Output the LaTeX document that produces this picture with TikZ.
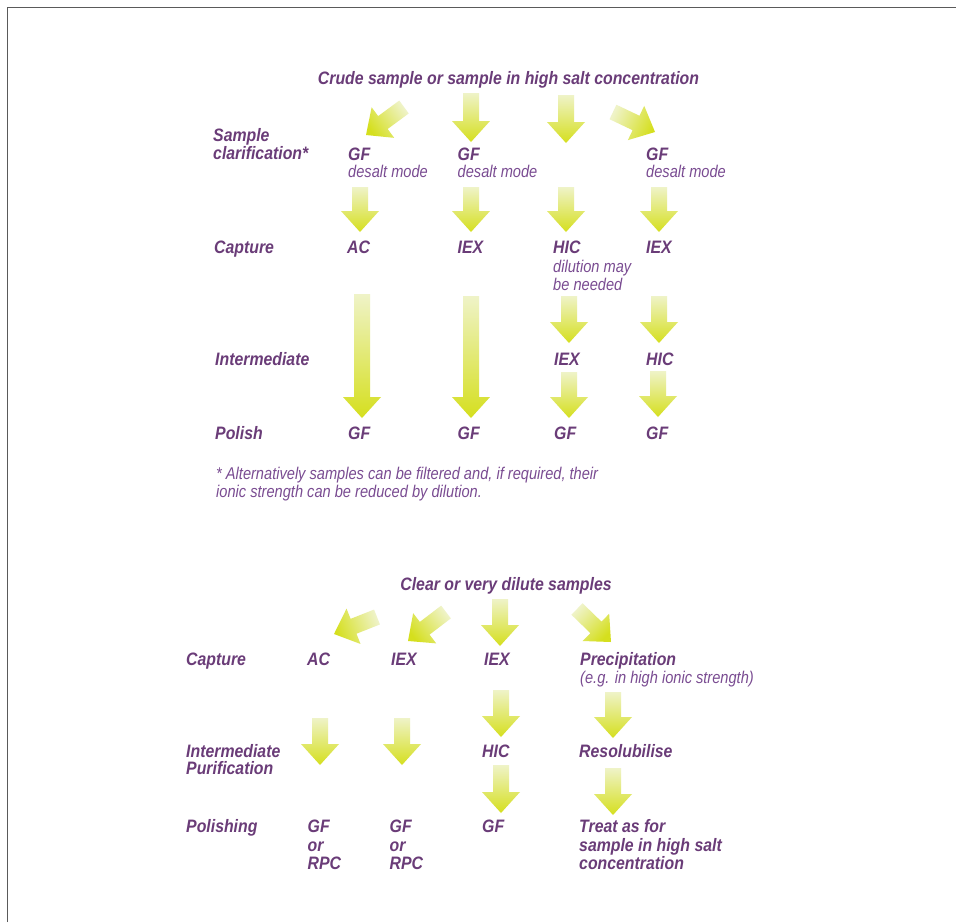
\documentclass[tikz,border=0pt]{standalone}
\usepackage{fontspec}
\setmainfont{Liberation Sans}[FakeStretch=0.88]
\newfontfamily\lightfam{Liberation Sans}[FakeStretch=0.86]
\usetikzlibrary{calc}
\definecolor{txtbold}{HTML}{6A3C78}
\definecolor{txtlight}{HTML}{7A4C92}
\definecolor{arrowtop}{HTML}{EFF3C8}
\definecolor{arrowbot}{HTML}{D5DF1E}
\definecolor{framecol}{HTML}{5A5A5A}
\tikzset{
  lab/.style={anchor=base west, inner sep=0pt, text=txtbold,
    font=\fontsize{18}{18}\selectfont\bfseries\itshape},
  titlelab/.style={anchor=base, inner sep=0pt, text=txtbold,
    font=\fontsize{18}{18}\selectfont\bfseries\itshape},
  sub/.style={anchor=base west, inner sep=0pt, text=txtlight,
    font=\lightfam\fontsize{17}{17}\selectfont\itshape},
  blockarrow/.style={top color=arrowtop, bottom color=arrowbot, draw=none},
}
\newcommand\barrow[2]{%
  \pgfmathanglebetweenpoints{\pgfpointanchor{#1}{center}}{\pgfpointanchor{#2}{center}}%
  \let\baraw\pgfmathresult
  \pgfmathsetmacro\baang{\baraw+90}%
  \path ($(#2)!21pt!(#1)$) coordinate (bah);
  \shade[blockarrow, shading angle=\baang]
    ($(#1)!8pt!90:(#2)$) -- ($(bah)!8pt!90:(#2)$) -- ($(bah)!19pt!90:(#2)$)
    -- (#2) -- ($(bah)!19pt!-90:(#2)$) -- ($(bah)!8pt!-90:(#2)$)
    -- ($(#1)!8pt!-90:(#2)$) -- cycle;
}
\begin{document}
\begin{tikzpicture}[x=1pt,y=-1pt]
\useasboundingbox (0,0) rectangle (956,922);
\fill[white] (0,0) rectangle (956,922);
\draw[framecol, line width=1pt] (7,922) -- (7,7) -- (956,7);

% ---------- upper scheme: texts ----------
\node[titlelab] (title1) at (508.5,84) {Crude sample or sample in high salt concentration};
\node[lab] (clar1) at (213,141) {Sample};
\node[lab] (clar2) at (213,159) {clarification*};
\node[lab] (cap1) at (214,253) {Capture};
\node[lab] (int1) at (215,365) {Intermediate};
\node[lab] (pol1) at (215,439) {Polish};

\node[lab] (gfa) at (348,160) {GF};
\node[sub] (gfad) at (348,177) {desalt mode};
\node[lab] (gfb) at (457.5,160) {GF};
\node[sub] (gfbd) at (457.5,177) {desalt mode};
\node[lab] (gfd) at (646,160) {GF};
\node[sub] (gfdd) at (646,177) {desalt mode};

\node[lab] (ca) at (347,253) {AC};
\node[lab] (cb) at (457.5,253) {IEX};
\node[lab] (cc) at (553,253) {HIC};
\node[sub] (ccd1) at (553,272) {dilution may};
\node[sub] (ccd2) at (553,290) {be needed};
\node[lab] (cd) at (646,253) {IEX};

\node[lab] (ic) at (554,365) {IEX};
\node[lab] (id) at (646,365) {HIC};

\node[lab] (pa) at (348,439.5) {GF};
\node[lab] (pb) at (457.5,439.5) {GF};
\node[lab] (pc) at (554,439.5) {GF};
\node[lab] (pd) at (646,439.5) {GF};

\node[sub] (note1) at (216,479.5) {* Alternatively samples can be filtered and, if required, their};
\node[sub] (note2) at (216,497) {ionic strength can be reduced by dilution.};

% ---------- upper scheme: arrows ----------
\coordinate (t1s) at (404,107);  \coordinate (t1e) at (366,135);
\coordinate (t2s) at (471,93);   \coordinate (t2e) at (471,142);
\coordinate (t3s) at (566,95);   \coordinate (t3e) at (566,143);
\coordinate (t4s) at (613,112);  \coordinate (t4e) at (655,132);
\coordinate (r2as) at (360,187); \coordinate (r2ae) at (360,232);
\coordinate (r2bs) at (471,187); \coordinate (r2be) at (471,232);
\coordinate (r2cs) at (566,187); \coordinate (r2ce) at (566,232);
\coordinate (r2ds) at (659,187); \coordinate (r2de) at (659,232);
\coordinate (r3as) at (362,294); \coordinate (r3ae) at (362,418);
\coordinate (r3bs) at (471,296); \coordinate (r3be) at (471,418);
\coordinate (r3cs) at (569,296); \coordinate (r3ce) at (569,343);
\coordinate (r3ds) at (659,296); \coordinate (r3de) at (659,343);
\coordinate (r4cs) at (569,372); \coordinate (r4ce) at (569,418);
\coordinate (r4ds) at (658,371); \coordinate (r4de) at (658,417);
\barrow{t1s}{t1e} \barrow{t2s}{t2e} \barrow{t3s}{t3e} \barrow{t4s}{t4e}
\barrow{r2as}{r2ae} \barrow{r2bs}{r2be} \barrow{r2cs}{r2ce} \barrow{r2ds}{r2de}
\barrow{r3as}{r3ae} \barrow{r3bs}{r3be} \barrow{r3cs}{r3ce} \barrow{r3ds}{r3de}
\barrow{r4cs}{r4ce} \barrow{r4ds}{r4de}

% ---------- lower scheme: texts ----------
\node[titlelab] (title2) at (506,590) {Clear or very dilute samples};
\node[lab] (cap2) at (186,665) {Capture};
\node[lab] (qa) at (307,665) {AC};
\node[lab] (qb) at (391,665) {IEX};
\node[lab] (qc) at (484,665) {IEX};
\node[lab] (qd) at (580,665) {Precipitation};
\node[sub] (qdd) at (580,683) {(e.g. in high ionic strength)};

\node[lab] (int2a) at (186,757) {Intermediate};
\node[lab] (int2b) at (186,774.5) {Purification};
\node[lab] (jc) at (482,757) {HIC};
\node[lab] (jd) at (579,757) {Resolubilise};

\node[lab] (pol2) at (186,832) {Polishing};
\node[lab] (ka1) at (307.5,832) {GF};
\node[lab] (ka2) at (307.5,851) {or};
\node[lab] (ka3) at (307.5,869.5) {RPC};
\node[lab] (kb1) at (389.5,832) {GF};
\node[lab] (kb2) at (389.5,851) {or};
\node[lab] (kb3) at (389.5,869.5) {RPC};
\node[lab] (kc) at (482,832) {GF};
\node[lab] (kd1) at (579,832) {Treat as for};
\node[lab] (kd2) at (579,851) {sample in high salt};
\node[lab] (kd3) at (579,869.5) {concentration};

% ---------- lower scheme: arrows ----------
\coordinate (b1s) at (377,617);  \coordinate (b1e) at (334,634);
\coordinate (b2s) at (446,612);  \coordinate (b2e) at (408,641);
\coordinate (b3s) at (500,599);  \coordinate (b3e) at (500,646);
\coordinate (b4s) at (577,609);  \coordinate (b4e) at (611,642);
\coordinate (b5s) at (320,718);  \coordinate (b5e) at (320,765);
\coordinate (b6s) at (402,718);  \coordinate (b6e) at (402,765);
\coordinate (b7s) at (501,690);  \coordinate (b7e) at (501,737);
\coordinate (b8s) at (613,692);  \coordinate (b8e) at (613,738);
\coordinate (b9s) at (501,765);  \coordinate (b9e) at (501,813);
\coordinate (b10s) at (613,768); \coordinate (b10e) at (613,815);
\barrow{b1s}{b1e} \barrow{b2s}{b2e} \barrow{b3s}{b3e} \barrow{b4s}{b4e}
\barrow{b5s}{b5e} \barrow{b6s}{b6e} \barrow{b7s}{b7e} \barrow{b8s}{b8e}
\barrow{b9s}{b9e} \barrow{b10s}{b10e}
\end{tikzpicture}
\end{document}
